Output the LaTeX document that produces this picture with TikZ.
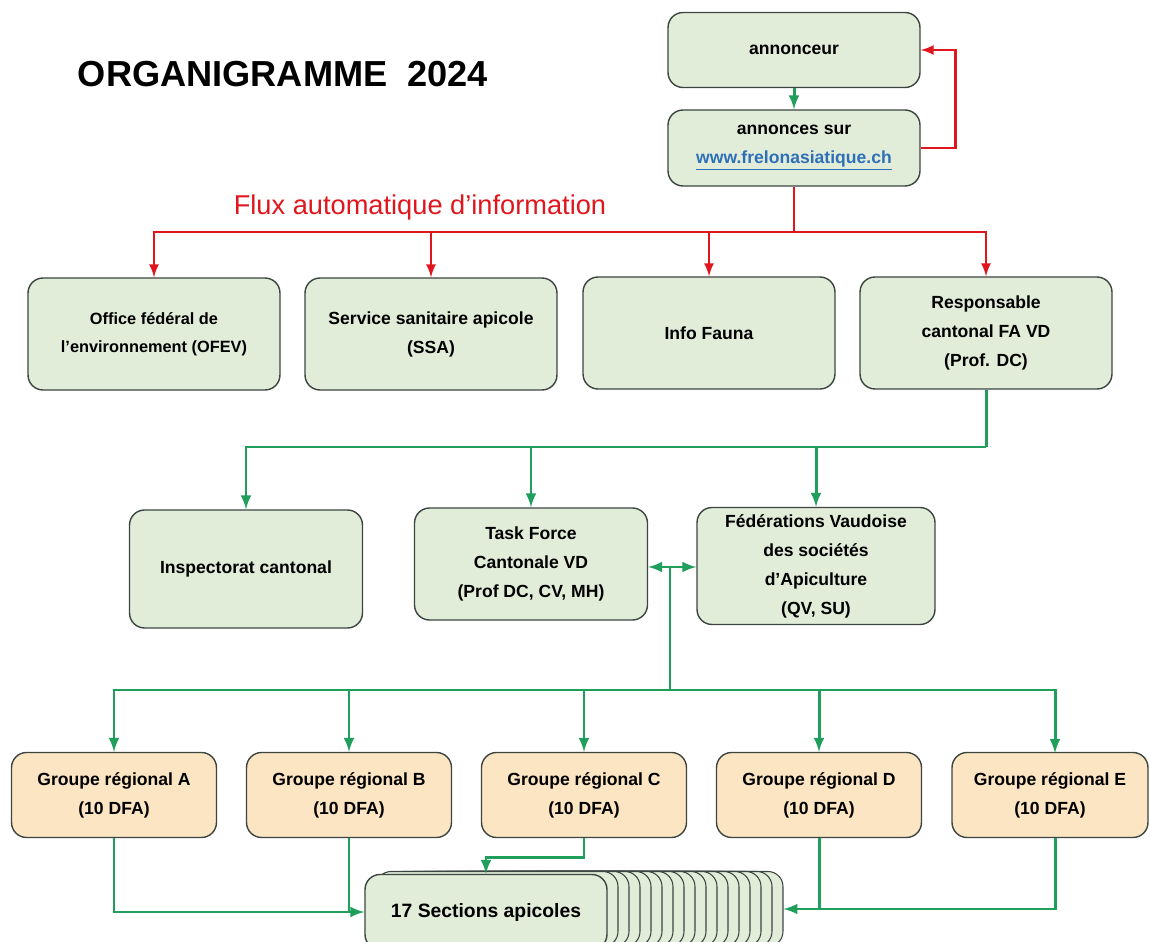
\documentclass[tikz,border=0pt]{standalone}
\usepackage{fontspec}
\setmainfont{Liberation Sans}
\usepackage{xcolor}
\usepackage{tikz}
\usetikzlibrary{arrows}

\definecolor{fondvert}{HTML}{E2EDD9}
\definecolor{fondorange}{HTML}{FCE5C2}
\definecolor{traitvert}{HTML}{1F9E5C}
\definecolor{traitrouge}{HTML}{E0161E}
\definecolor{bord}{HTML}{3C4540}
\definecolor{lien}{HTML}{2E70B8}

\begin{document}
\begin{tikzpicture}[x=0.02cm, y=-0.02cm, >=latex, thick]
\tikzstyle{boite} = [draw=bord, line width=0.8pt, rounded corners=0.3cm, align=center,
  font=\bfseries\fontsize{10}{16.5}\selectfont, inner sep=2pt]
\tikzstyle{boitev} = [boite, fill=fondvert]
\tikzstyle{boiteo} = [boite, fill=fondorange, minimum width=4.1cm, minimum height=1.7cm]
\tikzstyle{vert} = [->, draw=traitvert, line width=1.7pt]
\tikzstyle{rouge} = [->, draw=traitrouge, line width=1.5pt]
\useasboundingbox (0,0) rectangle (1150,942);

\node[font=\bfseries\fontsize{20.6}{24}\selectfont] (titre) at (283,74) {ORGANIGRAMME~~2024};
\node[text=traitrouge, font=\fontsize{15.5}{18}\selectfont] (flux) at (420,207) {Flux automatique d’information};

% annonce
\node[boitev, minimum width=5.04cm, minimum height=1.5cm] (annonceur) at (794,50) {annonceur};
\node[boitev, minimum width=5.04cm, minimum height=1.52cm] (annonces) at (794,148)
  {annonces sur\\ \textcolor{lien}{\underline{www.frelonasiatique.ch}}};

% destinataires
\node[boitev, minimum width=5.04cm, minimum height=2.24cm, font=\bfseries\fontsize{9.3}{16}\selectfont] (ofev) at (154,334)
  {Office fédéral de\\ l’environnement (OFEV)};
\node[boitev, minimum width=5.04cm, minimum height=2.24cm] (ssa) at (431,334)
  {Service sanitaire apicole\\ (SSA)};
\node[boitev, minimum width=5.04cm, minimum height=2.24cm] (fauna) at (709,333) {Info Fauna};
\node[boitev, minimum width=5.04cm, minimum height=2.24cm] (resp) at (986,333)
  {Responsable\\ cantonal FA VD\\ (Prof. DC)};

% niveau cantonal
\node[boitev, minimum width=4.66cm, minimum height=2.36cm] (insp) at (246,569) {Inspectorat cantonal};
\node[boitev, minimum width=4.66cm, minimum height=2.24cm] (tf) at (531,564)
  {Task Force\\ Cantonale VD\\ (Prof DC, CV, MH)};
\node[boitev, minimum width=4.76cm, minimum height=2.34cm] (fed) at (816,566)
  {Fédérations Vaudoise\\ des sociétés\\ d’Apiculture\\ (QV, SU)};

% groupes regionaux
\node[boiteo] (ga) at (114,795) {Groupe régional A\\ (10 DFA)};
\node[boiteo] (gb) at (349,795) {Groupe régional B\\ (10 DFA)};
\node[boiteo] (gc) at (584,795) {Groupe régional C\\ (10 DFA)};
\node[boiteo] (gd) at (819,795) {Groupe régional D\\ (10 DFA)};
\node[boiteo, minimum width=3.92cm] (ge) at (1050,795) {Groupe régional E\\ (10 DFA)};

% sections (pile)
\foreach \i in {16,15,...,1}
  \node[boitev, line width=0.6pt, minimum width=4.84cm, minimum height=1.5cm] (s\i) at (486+\i*11,909) {};
\node[boitev, minimum width=4.84cm, minimum height=1.5cm, font=\bfseries\fontsize{11}{14}\selectfont]
  (sect) at (486,912) {17 Sections apicoles};

% liaisons
\draw[traitvert, line width=1.7pt, ->] (annonceur) -- (annonces);
\draw[rouge] (annonces.east) -- ++(35,0) |- (annonceur.east);
\coordinate (r) at (794,232);
\draw[rouge, -] (annonces.south) -- (r);
\foreach \n in {ofev,ssa,fauna,resp}
  \draw[rouge] (r) -| (\n.north);

\coordinate (g1) at (986,447);
\draw[vert, -] (resp.south) -- (g1);
\foreach \n in {insp,tf,fed}
  \draw[vert] (g1) -| (\n.north);

\coordinate (m) at (670,567);
\draw[vert, <->] (tf.east |- m) -- (fed.west |- m);
\coordinate (g2) at (670,690);
\draw[vert, -] (m) -- (g2);
\foreach \n in {ga,gb,gc,gd}
  \draw[vert] (g2) -| (\n.north);
\draw[vert] (g2) -| (1055,753);

\draw[vert] (ga.south) |- (sect.west);
\draw[vert, -] (gb.south) -- (gb.south |- sect.west);
\draw[vert] (gc.south) -- ++(0,19) -| (sect.north);
\draw[vert] (1055,838) |- (s16.east);
\draw[vert, -] (gd.south) -- (gd.south |- s16.east);
\end{tikzpicture}
\end{document}
